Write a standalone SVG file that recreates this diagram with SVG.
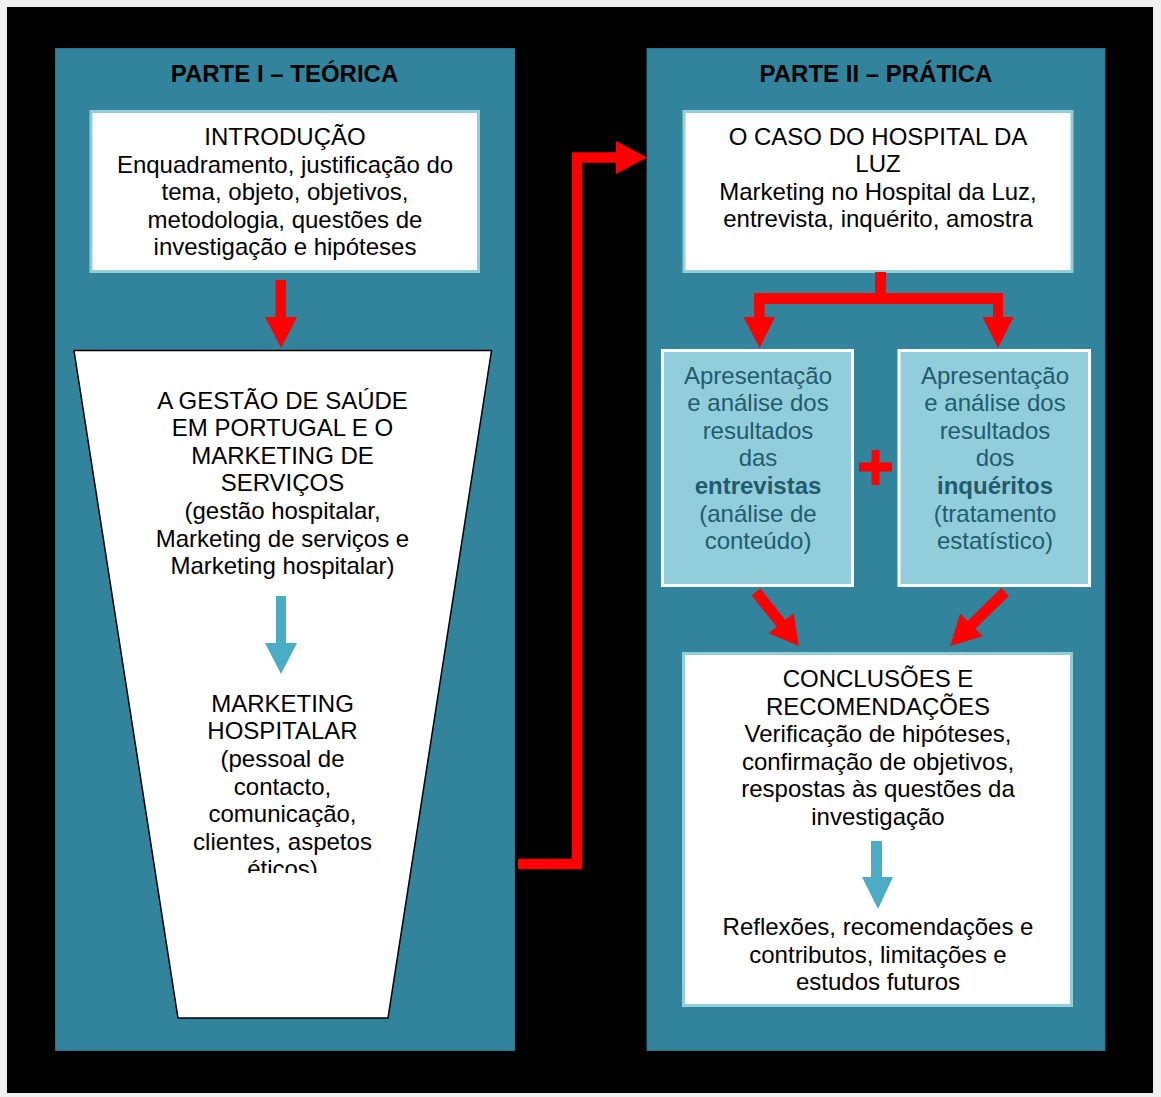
<svg xmlns="http://www.w3.org/2000/svg" width="1161" height="1097" viewBox="0 0 1161 1097">
  <defs>
    <style>
      .panel { fill: #31849B; stroke: #2a7285; stroke-width: 1; }
      .box { fill: #FFFFFF; stroke: #92CDDC; stroke-width: 3; }
      .subbox { fill: #92CDDC; stroke: #FFFFFF; stroke-width: 3; }
      .title { font-family: "Liberation Sans", Arial, sans-serif; font-size: 24px; font-weight: bold; fill: #000000; text-anchor: middle; }
      .txt { font-family: "Liberation Sans", Arial, sans-serif; font-size: 24px; fill: #000000; text-anchor: middle; }
      .subtxt { font-family: "Liberation Sans", Arial, sans-serif; font-size: 24px; fill: #225C6C; text-anchor: middle; }
      .red { fill: #FF0000; }
      .redline { fill: none; stroke: #FF0000; stroke-width: 10.5; stroke-linejoin: miter; }
      .blue { fill: #4BACC6; }
    </style>
    <clipPath id="funnel-text-clip">
      <rect x="60" y="600" width="440" height="273"/>
    </clipPath>
  </defs>

  <!-- page and frame -->
  <rect x="0" y="0" width="1161" height="1097" fill="#F0F0F0"/>
  <rect x="7" y="7" width="1146" height="1086" fill="#000000"/>

  <!-- part I -->
  <g id="parte-1">
    <rect class="panel" x="55.5" y="48.5" width="459" height="1002"/>
    <text class="title" x="284.5" y="82">PARTE I – TEÓRICA</text>
  </g>

  <g id="introducao">
    <rect class="box" x="91" y="111.5" width="387.5" height="160"/>
    <text class="txt" x="285" y="145">INTRODUÇÃO</text>
    <text class="txt" x="285" y="172.6">Enquadramento, justificação do</text>
    <text class="txt" x="285" y="200.2">tema, objeto, objetivos,</text>
    <text class="txt" x="285" y="227.8">metodologia, questões de</text>
    <text class="txt" x="285" y="255.4">investigação e hipóteses</text>
  </g>

  <g id="gestao-saude">
    <polygon points="74,350.5 491.5,350.5 388,1018 178,1018" fill="#FFFFFF" stroke="#000000" stroke-width="1.5"/>
    <text class="txt" x="282.5" y="408.5">A GESTÃO DE SAÚDE</text>
    <text class="txt" x="282.5" y="436.1">EM PORTUGAL E O</text>
    <text class="txt" x="282.5" y="463.7">MARKETING DE</text>
    <text class="txt" x="282.5" y="491.3">SERVIÇOS</text>
    <text class="txt" x="282.5" y="518.9">(gestão hospitalar,</text>
    <text class="txt" x="282.5" y="546.5">Marketing de serviços e</text>
    <text class="txt" x="282.5" y="574.1">Marketing hospitalar)</text>
    <polygon class="blue" points="276,596 286,596 286,643 297,643 281,674 265,643 276,643"/>
    <g clip-path="url(#funnel-text-clip)">
      <text class="txt" x="282.5" y="711.7">MARKETING</text>
      <text class="txt" x="282.5" y="739.3">HOSPITALAR</text>
      <text class="txt" x="282.5" y="766.9">(pessoal de</text>
      <text class="txt" x="282.5" y="794.5">contacto,</text>
      <text class="txt" x="282.5" y="822.1">comunicação,</text>
      <text class="txt" x="282.5" y="849.7">clientes, aspetos</text>
      <text class="txt" x="282.5" y="877.3">éticos)</text>
    </g>
  </g>

  <!-- part II -->
  <g id="parte-2">
    <rect class="panel" x="647" y="48.5" width="458" height="1002"/>
    <text class="title" x="876" y="82">PARTE II – PRÁTICA</text>
  </g>

  <g id="caso-hospital">
    <rect class="box" x="684" y="111.5" width="388" height="160"/>
    <text class="txt" x="878" y="144.5">O CASO DO HOSPITAL DA</text>
    <text class="txt" x="878" y="172.1">LUZ</text>
    <text class="txt" x="878" y="199.7">Marketing no Hospital da Luz,</text>
    <text class="txt" x="878" y="227.3">entrevista, inquérito, amostra</text>
  </g>

  <g id="entrevistas">
    <rect class="subbox" x="662.5" y="350.5" width="190" height="235"/>
    <text class="subtxt" x="758" y="383.5">Apresentação</text>
    <text class="subtxt" x="758" y="411.1">e análise dos</text>
    <text class="subtxt" x="758" y="438.7">resultados</text>
    <text class="subtxt" x="758" y="466.3">das</text>
    <text class="subtxt" x="758" y="493.9" font-weight="bold">entrevistas</text>
    <text class="subtxt" x="758" y="521.5">(análise de</text>
    <text class="subtxt" x="758" y="549.1">conteúdo)</text>
  </g>

  <g id="inqueritos">
    <rect class="subbox" x="899" y="350.5" width="190.5" height="235"/>
    <text class="subtxt" x="995" y="383.5">Apresentação</text>
    <text class="subtxt" x="995" y="411.1">e análise dos</text>
    <text class="subtxt" x="995" y="438.7">resultados</text>
    <text class="subtxt" x="995" y="466.3">dos</text>
    <text class="subtxt" x="995" y="493.9" font-weight="bold">inquéritos</text>
    <text class="subtxt" x="995" y="521.5">(tratamento</text>
    <text class="subtxt" x="995" y="549.1">estatístico)</text>
  </g>

  <g id="mais">
    <rect class="red" x="859" y="462.5" width="33" height="9"/>
    <rect class="red" x="871.5" y="450" width="8" height="35"/>
  </g>

  <g id="conclusoes">
    <rect class="box" x="683.5" y="653.5" width="388" height="352"/>
    <text class="txt" x="878" y="687">CONCLUSÕES E</text>
    <text class="txt" x="878" y="714.6">RECOMENDAÇÕES</text>
    <text class="txt" x="878" y="742.2">Verificação de hipóteses,</text>
    <text class="txt" x="878" y="769.8">confirmação de objetivos,</text>
    <text class="txt" x="878" y="797.4">respostas às questões da</text>
    <text class="txt" x="878" y="825">investigação</text>
    <polygon class="blue" points="871,841 882,841 882,877 893,877 878,909 862,877 871,877"/>
    <text class="txt" x="878" y="935">Reflexões, recomendações e</text>
    <text class="txt" x="878" y="962.6">contributos, limitações e</text>
    <text class="txt" x="878" y="990.2">estudos futuros</text>
  </g>

  <!-- connectors -->
  <g id="connectors">
    <!-- introduction down to the funnel -->
    <polygon class="red" points="275.5,280 286,280 286,317 297,317 281,348 265,317 275.5,317"/>
    <!-- part I over to part II -->
    <polyline class="redline" points="518,864 577,864 577,157.5 618,157.5"/>
    <polygon class="red" points="616,141 647,157.5 616,174"/>
    <!-- hospital case splits into the two analyses -->
    <polygon class="red" points="875,272 886,272 886,293 1003,293 1003,317 1013.5,317 998,348 982.5,317 993,317 993,304 764.5,304 764.5,317 775,317 759.5,348 743.5,317 754,317 754,293 875,293"/>
    <!-- analyses converge on the conclusions -->
    <polygon class="red" transform="translate(756,592) rotate(51.5)" points="0,-5.5 40,-5.5 40,-16 69,0 40,16 40,5.5 0,5.5"/>
    <polygon class="red" transform="translate(1005,592) rotate(135.5)" points="0,-5.5 47,-5.5 47,-16 77,0 47,16 47,5.5 0,5.5"/>
  </g>
</svg>
